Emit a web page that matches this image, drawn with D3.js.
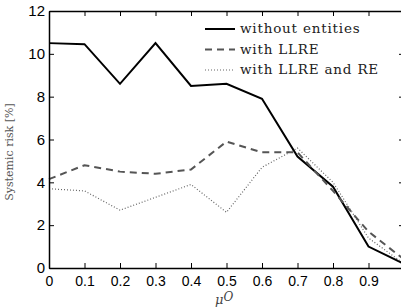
<!DOCTYPE html>
<html>
<head>
<meta charset="utf-8">
<script src="https://cdn.jsdelivr.net/npm/d3@7"></script>
<style>
  body { margin: 0; background: #fff; }
  svg { display: block; }
</style>
</head>
<body>
<div id="chart"></div>
<script>
// mu^O values
var muValues = [0, 0.1, 0.2, 0.3, 0.4, 0.5, 0.6, 0.7, 0.8, 0.9, 1.0];
var withoutEntities = [10.5, 10.45, 8.6, 10.5, 8.5, 8.6, 7.9, 5.2, 3.8, 1.0, 0.2];
var withLLRE = [4.15, 4.8, 4.5, 4.4, 4.6, 5.9, 5.4, 5.4, 3.6, 1.7, 0.4];
var withLLREandRE = [3.7, 3.6, 2.7, 3.3, 3.9, 2.6, 4.7, 5.6, 4.0, 1.4, 0.2];
var xTicks = [0, 0.1, 0.2, 0.3, 0.4, 0.5, 0.6, 0.7, 0.8, 0.9];
var yTicks = [0, 2, 4, 6, 8, 10, 12];

var seriesNames = ["without entities", "with LLRE", "with LLRE and RE"];
var seriesValues = [withoutEntities, withLLRE, withLLREandRE];
var seriesStyle = [
    { stroke: "#000", width: 2, dash: null },
    { stroke: "#555", width: 2, dash: "7,5" },
    { stroke: "#666", width: 1.2, dash: "1,2" }
];

var width = 401, height = 307;
var svg = d3.select("#chart")
  .append("svg")
    .attr("width", width)
    .attr("height", height);

var x = d3.scaleLinear()
    .domain([0, 1])
    .range([49, 404]);

var y = d3.scaleLinear()
    .domain([0, 12])
    .range([268, 11]);

// lines
var line = d3.line()
    .x(function(d, i) { return x(muValues[i]); })
    .y(function(d) { return y(d); });

seriesValues.forEach(function(vals, i) {
    svg.append("path")
        .datum(vals)
        .attr("fill", "none")
        .attr("stroke", seriesStyle[i].stroke)
        .attr("stroke-width", seriesStyle[i].width)
        .attr("stroke-dasharray", seriesStyle[i].dash)
        .attr("stroke-linejoin", "miter")
        .attr("d", line);
});

// axes: ticks point inward
var fontTicks = "'Liberation Sans', Arial, sans-serif";

var xAxis = svg.append("g")
    .attr("transform", "translate(0," + y(0) + ")")
    .call(d3.axisBottom(x).tickValues(xTicks).tickSizeInner(-5).tickSizeOuter(0)
        .tickFormat(function(d) { return d === 0 ? "0" : d3.format(".1f")(d); }));
xAxis.selectAll("text")
    .attr("y", 8)
    .style("font-family", fontTicks)
    .style("font-size", "14px")
    .attr("fill", "#000");

var xTop = svg.append("g")
    .attr("transform", "translate(0," + y(12) + ")")
    .call(d3.axisTop(x).tickValues(xTicks).tickSizeInner(-5).tickSizeOuter(0).tickFormat(""));

var yAxis = svg.append("g")
    .attr("transform", "translate(" + x(0) + ",0)")
    .call(d3.axisLeft(y).tickValues(yTicks).tickSizeInner(-5).tickSizeOuter(0));
yAxis.selectAll("text")
    .attr("x", -4)
    .style("font-family", fontTicks)
    .style("font-size", "15px")
    .attr("fill", "#000");

var yRight = svg.append("g")
    .attr("transform", "translate(" + x(1) + ",0)")
    .call(d3.axisRight(y).tickValues(yTicks).tickSizeInner(-5).tickSizeOuter(0).tickFormat(""));

svg.selectAll(".domain").attr("stroke", "#000").attr("stroke-width", 1.5);
svg.selectAll(".tick line").attr("stroke", "#000").attr("stroke-width", 1);

// y label
svg.append("text")
    .attr("transform", "translate(13," + 152 + ") rotate(-90)")
    .attr("text-anchor", "middle")
    .style("font-family", "'DejaVu Serif', serif")
    .style("font-size", "11px")
    .attr("fill", "#555")
    .text("Systemic risk [%]");

// x label mu^O
var xl = svg.append("text")
    .attr("x", 215)
    .attr("y", 304)
    .style("font-family", "'DejaVu Serif', serif")
    .style("font-style", "italic")
    .style("font-size", "13px")
    .attr("fill", "#444");
xl.append("tspan").text("μ");
xl.append("tspan").attr("dy", -3).attr("font-size", "12px").text("O");

// legend
var legend = svg.append("g");
seriesNames.forEach(function(name, i) {
    var ly = 29 + i * 20.5;
    legend.append("line")
        .attr("x1", 205).attr("x2", 235)
        .attr("y1", ly).attr("y2", ly)
        .attr("stroke", seriesStyle[i].stroke)
        .attr("stroke-width", seriesStyle[i].width)
        .attr("stroke-dasharray", seriesStyle[i].dash);
    legend.append("text")
        .attr("x", 240)
        .attr("y", ly + 4)
        .style("font-family", "'DejaVu Serif', 'Liberation Serif', serif")
        .style("font-size", "13.5px")
        .style("letter-spacing", "0.8px")
        .attr("fill", "#222")
        .text(name);
});
</script>
</body>
</html>
